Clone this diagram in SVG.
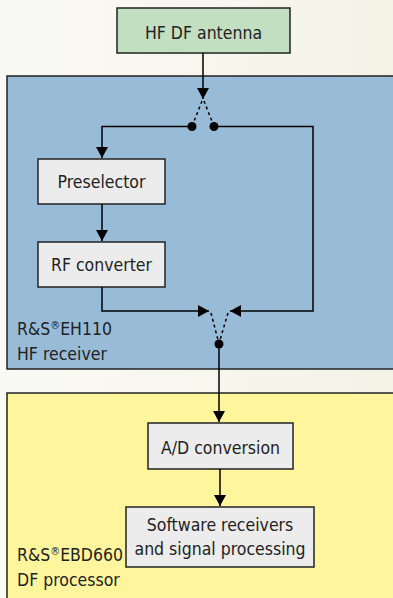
<svg xmlns="http://www.w3.org/2000/svg" width="393" height="598" viewBox="0 0 393 598">
<defs>
<linearGradient id="bg" x1="0" y1="0" x2="1" y2="0"><stop offset="0" stop-color="#fafaf5"/><stop offset="1" stop-color="#f5f3e6"/></linearGradient>
<marker id="ah" markerWidth="12" markerHeight="12" refX="11" refY="6" orient="auto" markerUnits="userSpaceOnUse"><path d="M0,0 L11,6 L0,12 Z" fill="#000"/></marker>
<style>
.t{font-family:"Liberation Sans Narrow","DejaVu Sans Condensed","Liberation Sans",sans-serif;font-size:17.5px;fill:#222;}
.box{fill:#ececec;stroke:#222;stroke-width:1.5;}
.ln{fill:none;stroke:#000;stroke-width:1.5;}
.dot{fill:none;stroke:#000;stroke-width:1.5;stroke-dasharray:3,3;}
</style>
</defs>
<rect x="0" y="0" width="393" height="598" fill="url(#bg)"/>
<g id="hf-receiver">
<rect x="7" y="76" width="390" height="293" fill="#98bcd8" stroke="#222" stroke-width="1.5"/>
<text class="t" x="17" y="335">R&amp;S<tspan font-size="11" dy="-6">®</tspan><tspan dy="6">EH110</tspan></text>
<text class="t" x="17" y="360">HF receiver</text>
</g>
<g id="df-processor">
<rect x="7" y="393" width="390" height="210" fill="#fff59d" stroke="#222" stroke-width="1.5"/>
<text class="t" x="17" y="561">R&amp;S<tspan font-size="11" dy="-6">®</tspan><tspan dy="6">EBD660</tspan></text>
<text class="t" x="17" y="586">DF processor</text>
</g>
<g id="antenna">
<rect x="117" y="8" width="173" height="45" fill="#c2dfc2" stroke="#222" stroke-width="1.5"/>
<text class="t" x="203.5" y="39" text-anchor="middle">HF DF antenna</text>
</g>
<g id="preselector">
<rect class="box" x="38" y="159" width="127" height="45"/>
<text class="t" x="101.5" y="188" text-anchor="middle">Preselector</text>
</g>
<g id="rf-converter">
<rect class="box" x="38" y="242" width="127" height="45"/>
<text class="t" x="101.5" y="271" text-anchor="middle">RF converter</text>
</g>
<g id="ad-conversion">
<rect class="box" x="148" y="423" width="145" height="46"/>
<text class="t" x="220.5" y="454" text-anchor="middle">A/D conversion</text>
</g>
<g id="software">
<rect class="box" x="126" y="507" width="188" height="60"/>
<text class="t" x="220" y="531" text-anchor="middle">Software receivers</text>
<text class="t" x="220" y="555" text-anchor="middle">and signal processing</text>
</g>
<g id="connectors">
<path class="ln" d="M203,53 V99" marker-end="url(#ah)"/>
<path class="dot" d="M202,101 L193,124"/>
<path class="dot" d="M204,101 L213,124"/>
<circle cx="192" cy="126.5" r="4.5" fill="#000"/>
<circle cx="214" cy="126.5" r="4.5" fill="#000"/>
<path class="ln" d="M192,126.5 H102 V158" marker-end="url(#ah)"/>
<path class="ln" d="M214,126.5 H313 V311 H230" marker-end="url(#ah)"/>
<path class="ln" d="M102,204 V241" marker-end="url(#ah)"/>
<path class="ln" d="M102,287 V311 H209" marker-end="url(#ah)"/>
<path class="dot" d="M211,313 L218,340"/>
<path class="dot" d="M228,313 L220,340"/>
<circle cx="219" cy="344" r="4.5" fill="#000"/>
<path class="ln" d="M219,344 V422" marker-end="url(#ah)"/>
<path class="ln" d="M220,469 V506" marker-end="url(#ah)"/>
</g>
</svg>
